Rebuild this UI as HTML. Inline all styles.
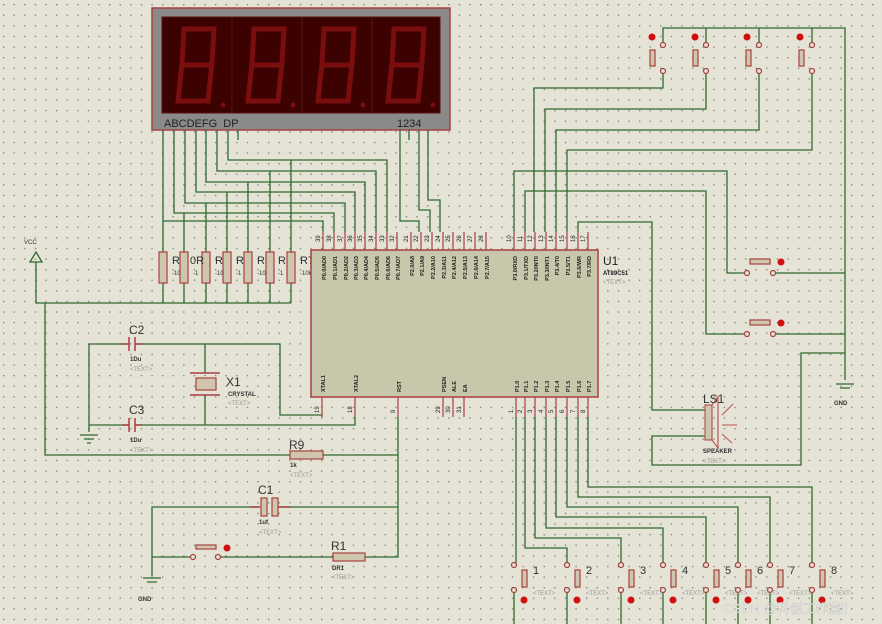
<!DOCTYPE html>
<html><head><meta charset="utf-8"><style>
html,body{margin:0;padding:0;background:#e4e3d6;}
svg{display:block}
text{font-family:"Liberation Sans",sans-serif}
</style></head><body>
<svg width="882" height="624" viewBox="0 0 882 624" xmlns="http://www.w3.org/2000/svg">
<defs>
<pattern id="g" width="10.6" height="10.6" patternUnits="userSpaceOnUse" x="3" y="4">
<rect x="0" y="0" width="1.3" height="1.3" fill="#7a7a70"/>
</pattern>
</defs>
<rect width="882" height="624" fill="#e4e3d6"/>
<rect width="882" height="624" fill="url(#g)"/>

<!-- Display -->
<rect x="152" y="8" width="298" height="122" fill="#8c8a88" stroke="#a84040" stroke-width="1.5"/>
<rect x="162" y="17" width="278" height="96" fill="#3c0202" stroke="#5a1010"/>
<g stroke="#5a1414" stroke-width="1"><line x1="232" y1="17" x2="232" y2="113"/><line x1="302" y1="17" x2="302" y2="113"/><line x1="372" y1="17" x2="372" y2="113"/></g>
<g fill="none" stroke="#7a0e0e" stroke-width="5">
<path d="M184 29 H214 L212 63 L208 101 H178 L182 63 Z M182 65 H212"/>
<path d="M254 29 H284 L282 63 L278 101 H248 L252 63 Z M252 65 H282"/>
<path d="M324 29 H354 L352 63 L348 101 H318 L322 63 Z M322 65 H352"/>
<path d="M394 29 H424 L422 63 L418 101 H388 L392 63 Z M392 65 H422"/>
</g>
<g fill="#7a0e0e"><circle cx="223" cy="105" r="2.5"/><circle cx="293" cy="105" r="2.5"/><circle cx="363" cy="105" r="2.5"/><circle cx="433" cy="105" r="2.5"/></g>
<text x="164" y="127" font-size="11" fill="#222">ABCDEFG&#160;&#160;DP</text>
<text x="397" y="127" font-size="11" fill="#222">1234</text>

<!-- wires -->
<g fill="none" stroke="#2f6a2f" stroke-width="1.3">
<!-- segment wires -->
<path d="M163 130 V221 H323 V232"/>
<path d="M174 130 V213 H334 V232"/>
<path d="M185 130 V203 H345 V232"/>
<path d="M196 130 V192 H355 V232"/>
<path d="M206 130 V182 H365 V232"/>
<path d="M217 130 V171 H376 V232"/>
<path d="M228 130 V160 H387 V232"/>
<path d="M238 130 V140"/>
<path d="M400 130 V221 H419 V232"/>
<path d="M409 130 V140"/>
<path d="M419 130 V210 H430 V232"/>
<path d="M428 130 V200 H440 V232"/>
<!-- resistor verticals -->
<path d="M163 221 V252 M184 213 V252 M206 203 V252 M227 192 V252 M248 182 V252 M270 171 V252 M291 160 V252"/>
<path d="M163 283 V303 M184 283 V303 M206 283 V303 M227 283 V303 M248 283 V303 M270 283 V303 M291 283 V303"/>
<path d="M36 262 V303 H291"/>
<path d="M45 303 V455 H290 M323 455 H398"/>
<!-- crystal -->
<path d="M89 344 H128 M136 344 H280 V415 H322 V415"/>
<path d="M89 344 V425 H128 M136 425 H355 V417"/>
<path d="M322 415 V417"/>
<path d="M205 344 V373 M205 395 V425"/>
<path d="M89 425 V432"/>
<!-- RST -->
<path d="M398 417 V557 H365 M333 557 H218 M193 557 H152"/>
<path d="M398 507 H278 M260 507 H152 V576"/>
<!-- top right buttons -->
<path d="M663 45 V28 H845 V380 M706 28 V45 M759 28 V45 M812 28 V45"/>
<path d="M663 71 V88 H534 V232"/>
<path d="M706 71 V109 H545 V232"/>
<path d="M759 71 V130 H556 V232"/>
<path d="M812 71 V150 H567 V232"/>
<path d="M514 232 V171 H727 V273 H747 M773 273 H845"/>
<path d="M525 232 V191 H706 V334 H747 M773 334 H845"/>
<path d="M578 232 V222 H652 V410 H705"/>
<path d="M705 436 H652 V465 H801 V353 H845"/>
<!-- P1 -->
<path d="M516 417 V565"/>
<path d="M525 417 V548 H567 V565"/>
<path d="M535 417 V538 H621 V565"/>
<path d="M546 417 V528 H663 V565"/>
<path d="M556 417 V517 H706 V565"/>
<path d="M567 417 V507 H738 V565"/>
<path d="M578 417 V497 H770 V565"/>
<path d="M588 417 V487 H812 V565"/>
<path d="M514 590 V624 M567 590 V624 M621 590 V624 M663 590 V624 M706 590 V624 M738 590 V624 M770 590 V624 M812 590 V624"/>
</g>

<!-- resistors -->
<g fill="#cfc6ae" stroke="#a84040" stroke-width="1.2">
<rect x="159" y="252" width="8" height="31"/><rect x="180" y="252" width="8" height="31"/><rect x="202" y="252" width="8" height="31"/><rect x="223" y="252" width="8" height="31"/><rect x="244" y="252" width="8" height="31"/><rect x="266" y="252" width="8" height="31"/><rect x="287" y="252" width="8" height="31"/>
<rect x="290" y="451" width="33" height="8"/>
<rect x="333" y="553" width="32" height="8"/>
</g>
<g font-size="11" fill="#333"><text x="172" y="264">R</text><text x="190" y="264">0R</text><text x="215" y="264">R</text><text x="236" y="264">R</text><text x="257" y="264">R</text><text x="278" y="264">R</text><text x="300" y="264">R7</text></g>
<g font-size="6" fill="#333"><text x="172" y="275">-10</text><text x="193" y="275">-1</text><text x="215" y="275">-10</text><text x="236" y="275">-1</text><text x="257" y="275">-10</text><text x="278" y="275">-1</text><text x="300" y="275">-10k</text></g>
<text x="24" y="244" font-size="6" fill="#333">VCC</text>
<path d="M30 262 L36 252 L42 262 Z" fill="none" stroke="#2f6a2f" stroke-width="1.3"/>

<!-- Chip -->
<rect x="311" y="250" width="287" height="147" fill="#c9c7ab" stroke="#a84040" stroke-width="1.5"/>
<g stroke="#a84040" stroke-width="1.2">
<path d="M323 232V250M334 232V250M345 232V250M355 232V250M365 232V250M376 232V250M387 232V250M397 232V250"/>
<path d="M411 232V250M421 232V250M432 232V250M443 232V250M453 232V250M464 232V250M475 232V250M486 232V250"/>
<path d="M514 232V250M525 232V250M535 232V250M546 232V250M556 232V250M567 232V250M578 232V250M588 232V250"/>
<path d="M322 397V417M355 397V417M398 397V417M443 397V417M453 397V417M464 397V417"/>
<path d="M516 397V417M525 397V417M535 397V417M546 397V417M556 397V417M567 397V417M578 397V417M588 397V417"/>
</g>
<g font-size="5.5" fill="#222" font-weight="bold">
<g text-anchor="end">
<text transform="translate(326,256) rotate(-90)">P0.0/AD0</text><text transform="translate(337,256) rotate(-90)">P0.1/AD1</text><text transform="translate(348,256) rotate(-90)">P0.2/AD2</text><text transform="translate(358,256) rotate(-90)">P0.3/AD3</text><text transform="translate(368,256) rotate(-90)">P0.4/AD4</text><text transform="translate(379,256) rotate(-90)">P0.5/AD5</text><text transform="translate(390,256) rotate(-90)">P0.6/AD6</text><text transform="translate(400,256) rotate(-90)">P0.7/AD7</text>
<text transform="translate(414,256) rotate(-90)">P2.0/A8</text><text transform="translate(424,256) rotate(-90)">P2.1/A9</text><text transform="translate(435,256) rotate(-90)">P2.2/A10</text><text transform="translate(446,256) rotate(-90)">P2.3/A11</text><text transform="translate(456,256) rotate(-90)">P2.4/A12</text><text transform="translate(467,256) rotate(-90)">P2.5/A13</text><text transform="translate(478,256) rotate(-90)">P2.6/A14</text><text transform="translate(489,256) rotate(-90)">P2.7/A15</text>
<text transform="translate(517,256) rotate(-90)">P3.0/RXD</text><text transform="translate(528,256) rotate(-90)">P3.1/TXD</text><text transform="translate(538,256) rotate(-90)">P3.2/INT0</text><text transform="translate(549,256) rotate(-90)">P3.3/INT1</text><text transform="translate(559,256) rotate(-90)">P3.4/T0</text><text transform="translate(570,256) rotate(-90)">P3.5/T1</text><text transform="translate(581,256) rotate(-90)">P3.6/WR</text><text transform="translate(591,256) rotate(-90)">P3.7/RD</text>
</g>
<text transform="translate(325,392) rotate(-90)">XTAL1</text><text transform="translate(358,392) rotate(-90)">XTAL2</text><text transform="translate(401,392) rotate(-90)">RST</text><text transform="translate(446,392) rotate(-90)">PSEN</text><text transform="translate(456,392) rotate(-90)">ALE</text><text transform="translate(467,392) rotate(-90)">EA</text>
<text transform="translate(519,392) rotate(-90)">P1.0</text><text transform="translate(528,392) rotate(-90)">P1.1</text><text transform="translate(538,392) rotate(-90)">P1.2</text><text transform="translate(549,392) rotate(-90)">P1.3</text><text transform="translate(559,392) rotate(-90)">P1.4</text><text transform="translate(570,392) rotate(-90)">P1.5</text><text transform="translate(581,392) rotate(-90)">P1.6</text><text transform="translate(591,392) rotate(-90)">P1.7</text>
</g>
<g font-size="6" fill="#222">
<text transform="translate(320,242) rotate(-90)">39</text><text transform="translate(331,242) rotate(-90)">38</text><text transform="translate(342,242) rotate(-90)">37</text><text transform="translate(352,242) rotate(-90)">36</text><text transform="translate(362,242) rotate(-90)">35</text><text transform="translate(373,242) rotate(-90)">34</text><text transform="translate(384,242) rotate(-90)">33</text><text transform="translate(394,242) rotate(-90)">32</text>
<text transform="translate(408,242) rotate(-90)">21</text><text transform="translate(418,242) rotate(-90)">22</text><text transform="translate(429,242) rotate(-90)">23</text><text transform="translate(440,242) rotate(-90)">24</text><text transform="translate(450,242) rotate(-90)">25</text><text transform="translate(461,242) rotate(-90)">26</text><text transform="translate(472,242) rotate(-90)">27</text><text transform="translate(483,242) rotate(-90)">28</text>
<text transform="translate(511,242) rotate(-90)">10</text><text transform="translate(522,242) rotate(-90)">11</text><text transform="translate(532,242) rotate(-90)">12</text><text transform="translate(543,242) rotate(-90)">13</text><text transform="translate(553,242) rotate(-90)">14</text><text transform="translate(564,242) rotate(-90)">15</text><text transform="translate(575,242) rotate(-90)">16</text><text transform="translate(585,242) rotate(-90)">17</text>
<text transform="translate(319,413) rotate(-90)">19</text><text transform="translate(352,413) rotate(-90)">18</text><text transform="translate(395,413) rotate(-90)">9</text><text transform="translate(440,413) rotate(-90)">29</text><text transform="translate(450,413) rotate(-90)">30</text><text transform="translate(461,413) rotate(-90)">31</text>
<text transform="translate(513,413) rotate(-90)">1</text><text transform="translate(522,413) rotate(-90)">2</text><text transform="translate(532,413) rotate(-90)">3</text><text transform="translate(543,413) rotate(-90)">4</text><text transform="translate(553,413) rotate(-90)">5</text><text transform="translate(564,413) rotate(-90)">6</text><text transform="translate(575,413) rotate(-90)">7</text><text transform="translate(585,413) rotate(-90)">8</text>
</g>
<text x="603" y="265" font-size="12" fill="#222">U1</text>
<text x="603" y="275" font-size="6" fill="#222" font-weight="bold">AT89C51</text>
<text x="603" y="284" font-size="6" fill="#999">&lt;TEXT&gt;</text>

<!-- caps & crystal -->
<g stroke="#a84040" stroke-width="1.5" fill="none">
<path d="M122 344H129M135 344H142M129 337V351M135 337V351"/>
<path d="M122 425H129M135 425H142M129 418V432M135 418V432"/>
<path d="M190 373H220M190 395H220"/>
<path d="M250 507H260M278 507H290"/>
</g>
<rect x="196" y="378" width="20" height="12" fill="#cfc6ae" stroke="#a84040" stroke-width="1.2"/>
<rect x="261" y="498" width="6" height="18" fill="#cfc6ae" stroke="#a84040" stroke-width="1.2"/>
<rect x="272" y="498" width="6" height="18" fill="#cfc6ae" stroke="#a84040" stroke-width="1.2"/>
<g font-size="12" fill="#333"><text x="129" y="334">C2</text><text x="129" y="414">C3</text><text x="226" y="386">X1</text><text x="289" y="449">R9</text><text x="258" y="494">C1</text><text x="331" y="550">R1</text><text x="703" y="403">LS1</text></g>
<g font-size="6" fill="#333" font-weight="bold"><text x="130" y="361">1Du</text><text x="130" y="442">1Du</text><text x="228" y="396">CRYSTAL</text><text x="290" y="467">1k</text><text x="259" y="524">1uf</text><text x="332" y="570">DR1</text><text x="703" y="453">SPEAKER</text><text x="138" y="601">GND</text><text x="834" y="405">GND</text></g>
<g font-size="6" fill="#999"><text x="130" y="371">&lt;TEXT&gt;</text><text x="130" y="452">&lt;TEXT&gt;</text><text x="228" y="405">&lt;TEXT&gt;</text><text x="290" y="477">&lt;TEXT&gt;</text><text x="259" y="534">&lt;TEXT&gt;</text><text x="332" y="579">&lt;TEXT&gt;</text><text x="703" y="463">&lt;TEXT&gt;</text></g>
<!-- grounds -->
<g stroke="#2f6a2f" stroke-width="1.3"><path d="M80 435H98M84 439H94M87 443H91"/><path d="M143 578H161M147 582H157"/><path d="M836 384H854M840 388H850"/></g>

<!-- speaker -->
<rect x="705" y="405" width="7" height="35" fill="#cfc6ae" stroke="#a84040"/>
<path d="M712 405 L718 397 V448 L712 440" fill="none" stroke="#a84040"/>
<path d="M722 415 L733 404 M722 425 H737 M722 434 L732 443" stroke="#c05050"/>

<!-- switches generic -->
<g stroke="#a84040" stroke-width="1.2" fill="#e4e3d6">
<!-- reset switch -->
<path d="M199 548 V546 H214 V548" fill="none"/><rect x="196" y="545" width="20" height="4" fill="#cfc6ae"/>
<circle cx="193" cy="557" r="2.5"/><circle cx="218" cy="557" r="2.5"/>
<!-- top switches -->
<rect x="650" y="50" width="5" height="16" fill="#cfc6ae"/><circle cx="663" cy="45" r="2.5"/><circle cx="663" cy="71" r="2.5"/>
<rect x="693" y="50" width="5" height="16" fill="#cfc6ae"/><circle cx="706" cy="45" r="2.5"/><circle cx="706" cy="71" r="2.5"/>
<rect x="746" y="50" width="5" height="16" fill="#cfc6ae"/><circle cx="759" cy="45" r="2.5"/><circle cx="759" cy="71" r="2.5"/>
<rect x="799" y="50" width="5" height="16" fill="#cfc6ae"/><circle cx="812" cy="45" r="2.5"/><circle cx="812" cy="71" r="2.5"/>
<!-- horizontal switches -->
<rect x="750" y="259" width="20" height="5" fill="#cfc6ae"/><circle cx="747" cy="273" r="2.5"/><circle cx="773" cy="273" r="2.5"/>
<rect x="750" y="320" width="20" height="5" fill="#cfc6ae"/><circle cx="747" cy="334" r="2.5"/><circle cx="773" cy="334" r="2.5"/>
<!-- bottom switches -->
<rect x="522" y="570" width="5" height="17" fill="#cfc6ae"/><circle cx="514" cy="565" r="2.5"/><circle cx="514" cy="590" r="2.5"/>
<rect x="575" y="570" width="5" height="17" fill="#cfc6ae"/><circle cx="567" cy="565" r="2.5"/><circle cx="567" cy="590" r="2.5"/>
<rect x="629" y="570" width="5" height="17" fill="#cfc6ae"/><circle cx="621" cy="565" r="2.5"/><circle cx="621" cy="590" r="2.5"/>
<rect x="671" y="570" width="5" height="17" fill="#cfc6ae"/><circle cx="663" cy="565" r="2.5"/><circle cx="663" cy="590" r="2.5"/>
<rect x="714" y="570" width="5" height="17" fill="#cfc6ae"/><circle cx="706" cy="565" r="2.5"/><circle cx="706" cy="590" r="2.5"/>
<rect x="746" y="570" width="5" height="17" fill="#cfc6ae"/><circle cx="738" cy="565" r="2.5"/><circle cx="738" cy="590" r="2.5"/>
<rect x="778" y="570" width="5" height="17" fill="#cfc6ae"/><circle cx="770" cy="565" r="2.5"/><circle cx="770" cy="590" r="2.5"/>
<rect x="820" y="570" width="5" height="17" fill="#cfc6ae"/><circle cx="812" cy="565" r="2.5"/><circle cx="812" cy="590" r="2.5"/>
</g>
<g fill="#d01010">
<circle cx="227" cy="548" r="3.5"/>
<circle cx="652" cy="37" r="3.5"/><circle cx="695" cy="37" r="3.5"/><circle cx="747" cy="37" r="3.5"/><circle cx="800" cy="37" r="3.5"/>
<circle cx="781" cy="262" r="3.5"/><circle cx="781" cy="323" r="3.5"/>
<circle cx="524" cy="600" r="3.5"/><circle cx="577" cy="600" r="3.5"/><circle cx="631" cy="600" r="3.5"/><circle cx="673" cy="600" r="3.5"/><circle cx="716" cy="600" r="3.5"/><circle cx="748" cy="600" r="3.5"/><circle cx="780" cy="600" r="3.5"/><circle cx="822" cy="600" r="3.5"/>
</g>
<g font-size="11" fill="#333"><text x="533" y="574">1</text><text x="586" y="574">2</text><text x="640" y="574">3</text><text x="682" y="574">4</text><text x="725" y="574">5</text><text x="757" y="574">6</text><text x="789" y="574">7</text><text x="831" y="574">8</text></g>
<g font-size="6" fill="#999"><text x="533" y="595">&lt;TEXT&gt;</text><text x="586" y="595">&lt;TEXT&gt;</text><text x="640" y="595">&lt;TEXT&gt;</text><text x="682" y="595">&lt;TEXT&gt;</text><text x="725" y="595">&lt;TEXT&gt;</text><text x="757" y="595">&lt;TEXT&gt;</text><text x="789" y="595">&lt;TEXT&gt;</text><text x="831" y="595">&lt;TEXT&gt;</text></g>
<text x="723" y="613" font-size="13" fill="#ffffff" stroke="#bbb" stroke-width="0.4" style='font-family:"Liberation Sans","Noto Sans CJK SC",sans-serif'>CSDN @科创工作室li</text>
</svg>
</body></html>
